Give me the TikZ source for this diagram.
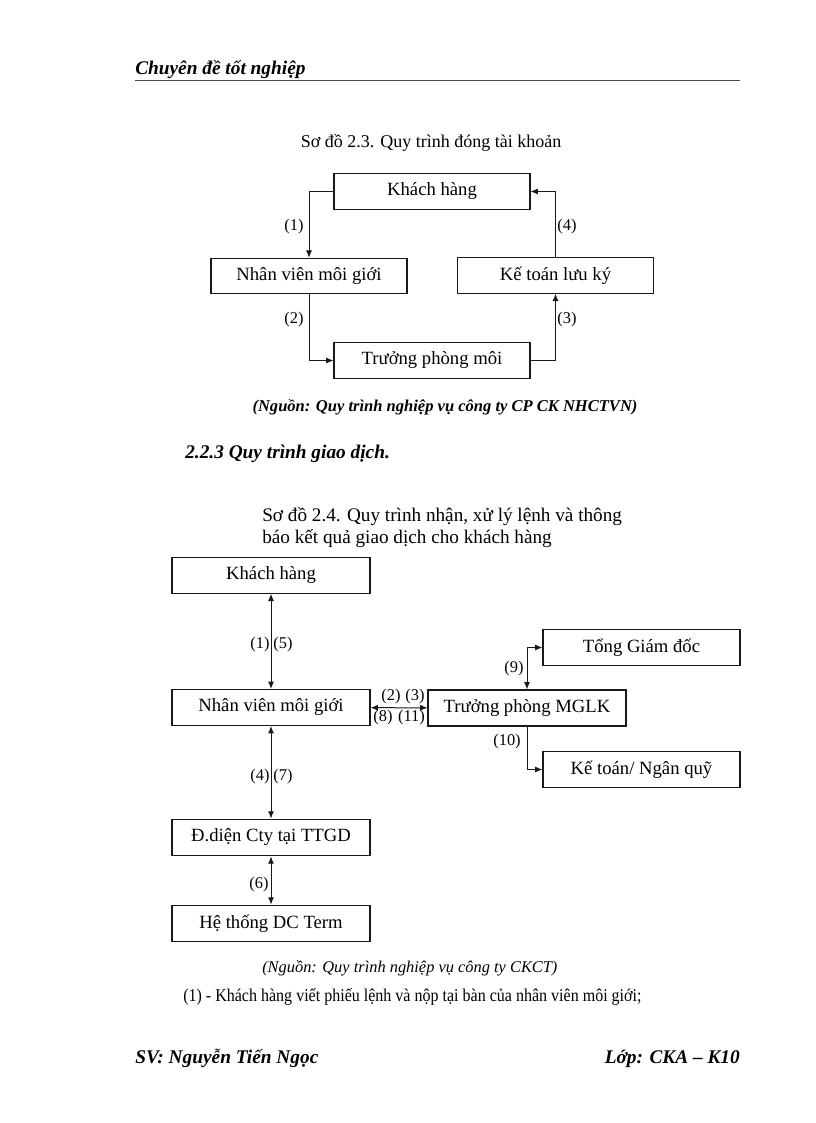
\documentclass[tikz,border=0pt]{standalone}
\usepackage{fontspec}
\setmainfont{Liberation Serif}
\newfontfamily\condserif[FakeStretch=0.89]{Liberation Serif}
\usetikzlibrary{arrows.meta}
\begin{document}
\begin{tikzpicture}[x=0.75pt,y=-0.75pt,
  box/.style={draw=black!90, line width=0.8pt, inner sep=0pt, minimum width=147pt, minimum height=26.5pt, font=\fontsize{14}{16}\selectfont},
  lbl/.style={inner sep=0pt, font=\fontsize{12.3}{14}\selectfont},
  arr/.style={draw=black!90, line width=0.75pt, -{Latex[length=5.5pt,width=4.5pt]}},
  darr/.style={draw=black!90, line width=0.75pt, {Latex[length=5.5pt,width=4.5pt]}-{Latex[length=5.5pt,width=4.5pt]}},
  txt/.style={inner sep=0pt, font=\fontsize{13.5}{16}\selectfont},
  bi/.style={inner sep=0pt, font=\fontsize{14.5}{17}\selectfont\bfseries\itshape}]
\useasboundingbox[fill=white] (0,0) rectangle (816,1123);

% header
\node[bi, anchor=base west] (hdr) at (135,75) {Chuyên đề tốt nghiệp};
\draw[line width=0.75pt, black!70] (135,80.5) -- (740,80.5);

% diagram 2.3
\node[txt, anchor=base] (t1) at (431,148) {Sơ đồ 2.3. Quy trình đóng tài khoản};
\node[box] (kh1) at (432,191.5) {Khách hàng};
\node[box] (nv1) at (309,276) {Nhân viên môi giới};
\node[box] (kt1) at (555.5,275.5) {Kế toán lưu ký};
\node[box] (tp1) at (432,360.5) {Trưởng phòng môi};
\draw[arr] (kh1.west) -| (nv1.north);
\draw[arr] (nv1.south) |- (tp1.west);
\draw[arr] (tp1.east) -| (kt1.south);
\draw[arr] (kt1.north) |- (kh1.east);
\node[lbl] (l1) at (294,227) {(1)};
\node[lbl] (l2) at (294,320) {(2)};
\node[lbl] (l3) at (567,320) {(3)};
\node[lbl] (l4) at (567,227) {(4)};
\node[inner sep=0pt, anchor=base, font=\fontsize{12.4}{14}\selectfont\bfseries\itshape] (src1) at (445,411) {(Nguồn: Quy trình nghiệp vụ công ty CP CK NHCTVN)};

% section
\node[bi, anchor=base west] (sec) at (185,458) {2.2.3 Quy trình giao dịch.};
\node[txt, anchor=base west, font=\fontsize{14.4}{16}\selectfont] (c1) at (262,521) {Sơ đồ 2.4. Quy trình nhận, xử lý lệnh và thông};
\node[txt, anchor=base west, font=\fontsize{14.4}{16}\selectfont] (c2) at (262,543) {báo kết quả giao dịch cho khách hàng};

% diagram 2.4
\node[box, minimum width=148.5pt] (kh2) at (271,575.5) {Khách hàng};
\node[box, minimum width=148.5pt, minimum height=27pt] (nv2) at (271,707.5) {Nhân viên môi giới};
\node[box, minimum width=148.5pt, minimum height=27.5pt] (dd2) at (271,837.5) {Đ.diện Cty tại TTGD};
\node[box, minimum width=148.5pt, minimum height=27.5pt] (ht2) at (271,923.5) {Hệ thống DC Term};
\node[box, minimum width=148.5pt, minimum height=27pt] (tp2) at (527,708) {Trưởng phòng MGLK};
\node[box, minimum width=147.75pt, minimum height=27.5pt] (tgd2) at (641.5,647.5) {Tổng Giám đốc};
\node[box, minimum width=147.75pt] (kq2) at (641.5,769.5) {Kế toán/ Ngân quỹ};

\draw[darr] (kh2) -- (nv2);
\draw[darr] (nv2) -- (dd2);
\draw[darr] (dd2) -- (ht2);
\draw[darr] (nv2) -- (tp2);
\draw[darr] (tp2.north) |- (tgd2.west);
\draw[arr] (tp2.south) |- (kq2.west);

\node[lbl] (m1) at (260,645) {(1)};
\node[lbl] (m5) at (283,645) {(5)};
\node[lbl] (m4) at (260,777) {(4)};
\node[lbl] (m7) at (283,777) {(7)};
\node[lbl] (m6) at (259,885) {(6)};
\node[lbl] (m2) at (391,697) {(2)};
\node[lbl] (m3) at (415,697) {(3)};
\node[lbl] (m8) at (383,718) {(8)};
\node[lbl] (m11) at (411.5,718) {(11)};
\node[lbl] (m9) at (514,669) {(9)};
\node[lbl] (m10) at (507,742) {(10)};

\node[inner sep=0pt, anchor=base west, font=\fontsize{12.3}{14}\selectfont\itshape] (src2) at (262,972) {(Nguồn: Quy trình nghiệp vụ công ty CKCT)};
\node[inner sep=0pt, anchor=base west, font=\condserif\fontsize{13.5}{16}\selectfont] (body) at (183,1001) {(1) - Khách hàng viết phiếu lệnh và nộp tại bàn của nhân viên môi giới;};

% footer
\node[bi, anchor=base west] (f1) at (135,1063) {SV: Nguyễn Tiến Ngọc};
\node[bi, anchor=base east] (f2) at (740,1063) {Lớp: CKA – K10};
\end{tikzpicture}
\end{document}
